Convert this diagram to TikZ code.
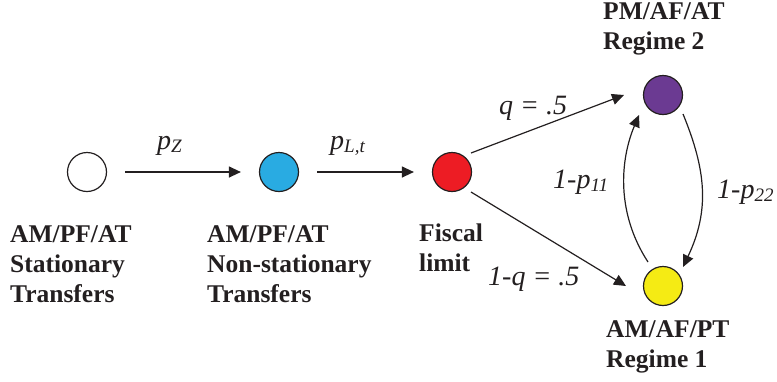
\documentclass[tikz,border=0pt]{standalone}
\usepackage{fontspec}
\setmainfont{Liberation Serif}
\usetikzlibrary{arrows.meta,calc}
\definecolor{ink}{HTML}{231F20}
\definecolor{cblue}{HTML}{29ABE2}
\definecolor{cred}{HTML}{ED1C24}
\definecolor{cpurple}{HTML}{6B3A92}
\definecolor{cyellow}{HTML}{F5EB14}
\newcommand\lsub[1]{\raisebox{-3.5pt}{\fontsize{19}{19}\selectfont #1}}
\begin{document}
\begin{tikzpicture}[x=1pt,y=-1pt,
  state/.style={circle,draw=ink,line width=1.2pt,minimum size=39pt,inner sep=0pt},
  arr/.style={draw=ink,line width=1.2pt,-{Triangle[length=12pt,width=11pt]}},
  lbl/.style={text=ink,font=\fontsize{25.5}{30}\selectfont\bfseries,align=left,inner sep=0pt,anchor=north west},
  plab/.style={text=ink,font=\fontsize{28}{30}\selectfont\itshape,inner sep=0pt,anchor=base west}]
\useasboundingbox (0,0) rectangle (777,381);
\node[state,fill=white] (s0) at (87,172) {};
\node[state,fill=cblue] (s1) at (279,172) {};
\node[state,fill=cred] (fl) at (452,172) {};
\node[state,fill=cpurple] (r2) at (663,95) {};
\node[state,fill=cyellow] (r1) at (663,286) {};

\draw[arr,shorten <=18pt,shorten >=18pt] (s0) -- (s1);
\draw[arr,shorten <=18pt,shorten >=18pt] (s1) -- (fl);
\draw[arr] ($(fl.center)+(19,-19)$) -- ($(r2.center)+(-39,0)$);
\draw[arr] ($(fl.center)+(19,20)$) -- ($(r1.center)+(-37,0)$);
\draw[arr] ($(r1.center)+(-15,-24)$) .. controls ($(r1.center)+(-47,-73)$) and ($(r2.center)+(-43,65)$) .. ($(r2.center)+(-24,20)$);
\draw[arr] ($(r2.center)+(20,19)$) .. controls ($(r2.center)+(43,75)$) and ($(r1.center)+(47,-76)$) .. ($(r1.center)+(20,-19)$);

\node[lbl] (t0) at (10,225) {AM/PF/AT\\Stationary\\Transfers};
\node[lbl] (t1) at (207,225) {AM/PF/AT\\Non-stationary\\Transfers};
\node[lbl] (tf) at (419,224) {Fiscal\\limit};
\node[lbl] (t2) at (603,2) {PM/AF/AT\\Regime 2};
\node[lbl] (t3) at (606,320) {AM/AF/PT\\Regime 1};

\node[plab] (lz) at (157,149) {p\lsub{Z}};
\node[plab] (llt) at (330,149) {p\lsub{L,t}};
\node[plab] (lq) at (499,114) {q = .5};
\node[plab] (lq1) at (488,285) {1-q = .5};
\node[plab] (lp11) at (553,188) {1-p\lsub{11}};
\node[plab] (lp22) at (717,198) {1-p\lsub{22}};
\end{tikzpicture}
\end{document}
